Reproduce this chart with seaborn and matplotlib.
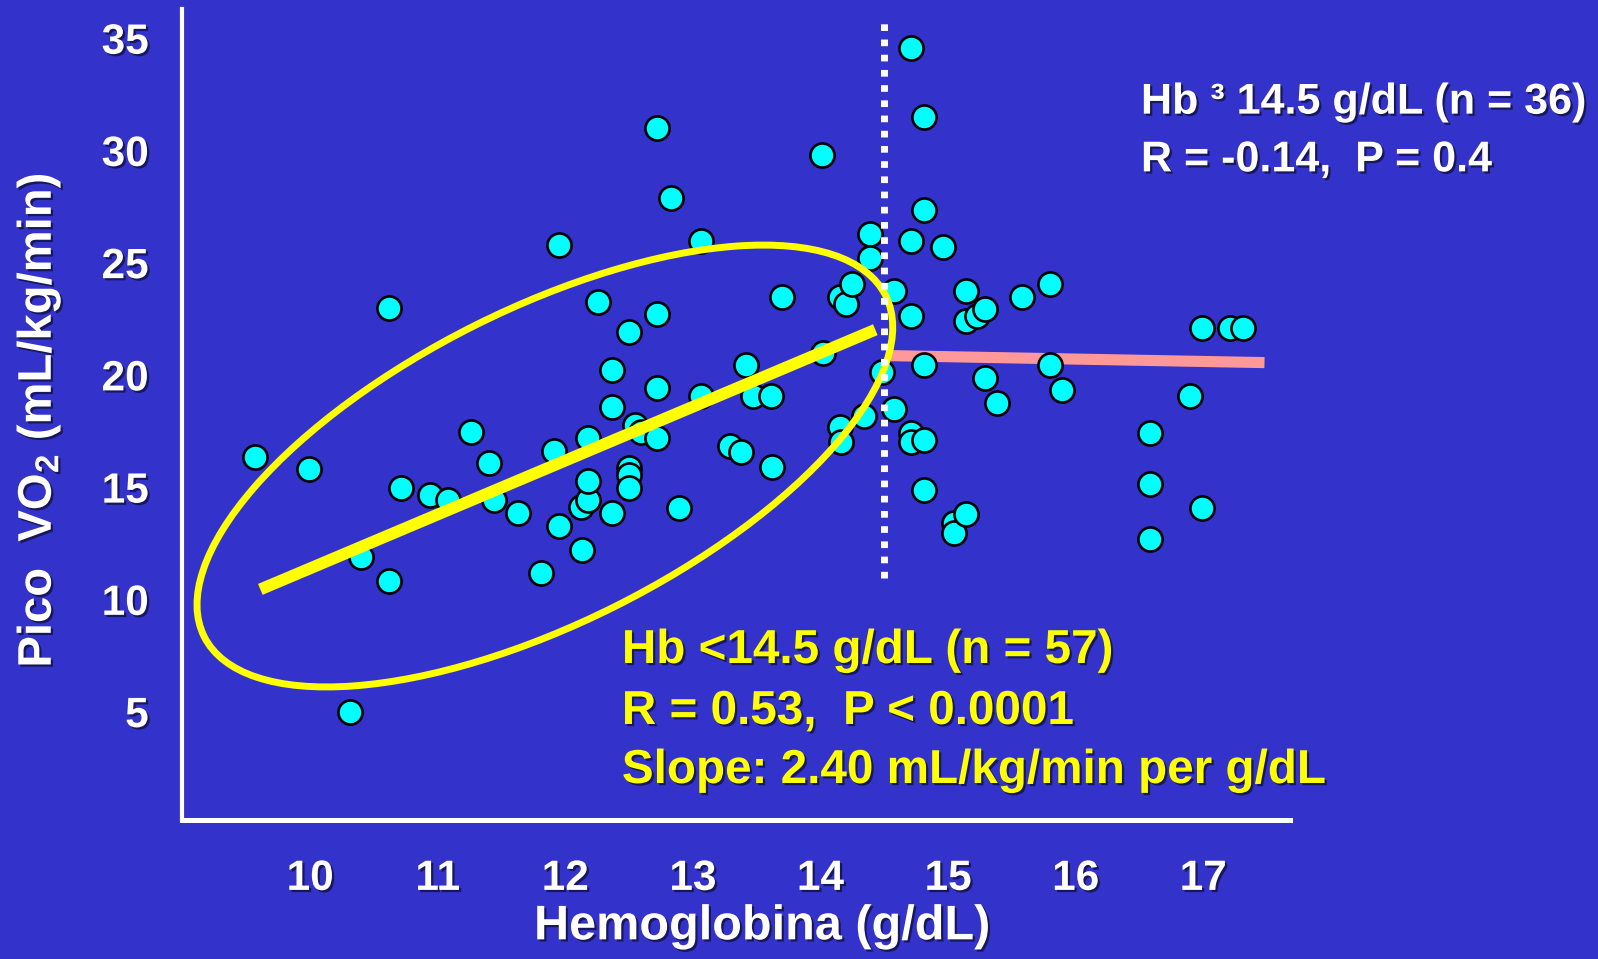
import matplotlib
matplotlib.use("Agg")
import matplotlib.pyplot as plt
import matplotlib.patheffects as pe
from matplotlib.patches import Ellipse
from matplotlib.transforms import ScaledTranslation
import pandas as pd
import seaborn as sns

# Patients with Hb < 14.5 g/dL
low_hb = [9.57, 9.99, 10.31, 10.40, 10.62, 10.62, 10.71, 10.94, 11.08, 11.26,
          11.40, 11.44, 11.63, 11.81, 11.91, 11.95, 11.95, 12.12, 12.13, 12.18,
          12.18, 12.18, 12.26, 12.37, 12.37, 12.37, 12.50, 12.50, 12.50, 12.50,
          12.55, 12.59, 12.72, 12.72, 12.72, 12.72, 12.83, 12.89, 13.06, 13.06,
          13.29, 13.38, 13.42, 13.47, 13.61, 13.62, 13.70, 14.01, 14.02, 14.15,
          14.15, 14.16, 14.20, 14.25, 14.34, 14.39, 14.39]
low_vo2 = [16.35, 15.79, 5.00, 11.90, 22.99, 10.80, 14.94, 14.67, 14.42, 17.44,
           16.08, 14.42, 13.86, 11.16, 16.62, 25.77, 13.28, 14.12, 12.19, 14.42,
           15.27, 17.20, 23.25, 20.21, 18.55, 13.86, 21.89, 15.83, 15.53, 14.94,
           17.76, 17.44, 31.02, 22.72, 19.40, 17.20, 27.89, 14.05, 25.97, 19.07,
           16.84, 16.57, 20.43, 19.07, 19.07, 15.91, 23.48, 29.79, 20.96, 23.48,
           17.69, 17.02, 23.18, 24.04, 18.16, 26.26, 25.19]

# Patients with Hb >= 14.5 g/dL
high_hb = [14.48, 14.58, 14.58, 14.71, 14.71, 14.71, 14.71, 14.71, 14.81, 14.81,
           14.81, 14.81, 14.81, 14.96, 15.05, 15.05, 15.14, 15.14, 15.14, 15.23,
           15.29, 15.29, 15.38, 15.58, 15.80, 15.80, 15.89, 16.58, 16.58, 16.58,
           16.90, 16.99, 16.99, 17.21, 17.31]
high_vo2 = [20.15, 23.73, 18.50, 34.55, 25.97, 22.64, 17.40, 17.01, 31.49, 27.33,
            20.42, 17.09, 14.89, 25.68, 13.41, 12.95, 23.73, 22.38, 13.79, 22.61,
            22.92, 19.85, 18.75, 23.48, 24.03, 20.42, 19.32, 17.39, 15.16, 12.68,
            19.05, 22.07, 14.05, 22.07, 22.07]

# Fitted lines: (slope, intercept, x start, x end)
low_fit = (2.40, -12.62, 9.61, 14.43)
high_fit = (-0.106, 22.40, 14.55, 17.48)
all_fit = (1.255, 1.914, 9.45, 17.47)
hb_cutoff = 14.5
cutoff_span = (10.95, 35.9)

x_ticks = [10, 11, 12, 13, 14, 15, 16, 17]
y_ticks = [5, 10, 15, 20, 25, 30, 35]

BG = "#3333CC"
CYAN = "#00FFFF"
YELLOW = "#FFFF00"
PINK = "#FF9999"

sns.set_style("white")
plt.rcParams["font.family"] = ["Liberation Sans", "DejaVu Sans"]
plt.rcParams["font.weight"] = "bold"
plt.rcParams["mathtext.fontset"] = "custom"
plt.rcParams["mathtext.rm"] = "Liberation Sans:bold"
plt.rcParams["mathtext.bf"] = "Liberation Sans:bold"
plt.rcParams["mathtext.default"] = "bf"

shadow = [pe.withSimplePatchShadow(offset=(1.6, -1.6), shadow_rgbFace="#141450", alpha=0.9)]

fig = plt.figure(figsize=(15.98, 9.59), dpi=100, facecolor=BG)
ax = fig.add_axes([182 / 1598, 139 / 959, 1108 / 1598, 811 / 959])
ax.set_facecolor(BG)

df = pd.DataFrame({
    "hb": low_hb + high_hb,
    "vo2": low_vo2 + high_vo2,
})


def fit_line(fit):
    slope, intercept, x0, x1 = fit
    return [x0, x1], [slope * x0 + intercept, slope * x1 + intercept]


# overall trend (dotted) and high-Hb trend behind the points
xs, ys = fit_line(all_fit)
ax.plot(xs, ys, color=CYAN, lw=7.3, linestyle=(0, (0, 2.4)),
        dash_capstyle="round", zorder=1)
xs, ys = fit_line(high_fit)
ax.plot(xs, ys, color=PINK, lw=8, solid_capstyle="butt", zorder=1.5)

sns.scatterplot(data=df, x="hb", y="vo2", ax=ax, color=CYAN, s=300,
                edgecolor="black", linewidth=1.9, zorder=3, legend=False)

# low-Hb regression line
xs, ys = fit_line(low_fit)
ax.plot(xs, ys, color=YELLOW, lw=8.5, solid_capstyle="butt", zorder=4)

# ellipse around the low-Hb cloud
ell = Ellipse((0, 0), width=7.62, height=3.14, angle=26.6, fill=False,
              edgecolor=YELLOW, lw=5,
              transform=fig.dpi_scale_trans + ScaledTranslation(11.84, 15.94, ax.transData),
              zorder=5)
ax.add_patch(ell)

# Hb cutoff
ax.plot([hb_cutoff, hb_cutoff], list(cutoff_span), color="white", lw=5,
        linestyle=(0, (0.96, 1.23)), dash_capstyle="butt", zorder=6)

ax.set_xlim(8.996, 17.68)
ax.set_ylim(0.17, 36.3)
ax.set_xticks(x_ticks)
ax.set_yticks(y_ticks)
ax.set_xticklabels([str(v) for v in x_ticks])
ax.set_yticklabels([str(v) for v in y_ticks])

for s in ["top", "right"]:
    ax.spines[s].set_visible(False)
ax.spines["left"].set_color("white")
ax.spines["left"].set_linewidth(3)
ax.spines["bottom"].set_color("white")
ax.spines["bottom"].set_linewidth(3.6)

ax.tick_params(axis="x", colors="white", direction="out", length=16, width=3,
               labelsize=30.5, pad=12)
ax.tick_params(axis="y", colors="white", direction="out", length=16, width=3,
               labelsize=30.5, pad=8)
for lab in ax.get_xticklabels() + ax.get_yticklabels():
    lab.set_fontweight("bold")
    lab.set_path_effects(shadow)

ax.set_ylabel(r"Pico  VO$_2$ (mL/kg/min)", fontsize=34, color="white",
              fontweight="bold", path_effects=shadow)
ax.yaxis.set_label_coords(-0.1074, 0.493)
ax.set_xlabel("Hemoglobina (g/dL)", fontsize=35, color="white",
              fontweight="bold", path_effects=shadow)
ax.xaxis.set_label_coords(0.5235, -0.104)

white_lines = ["Hb ³ 14.5 g/dL (n = 36)", "R = -0.14,  P = 0.4"]
for txt, yy in zip(white_lines, [0.871, 0.7998]):
    ax.text(0.8655, yy, txt, transform=ax.transAxes, color="white", fontsize=31,
            fontweight="bold", ha="left", va="baseline", path_effects=shadow,
            zorder=7)

yellow_lines = ["Hb <14.5 g/dL (n = 57)", "R = 0.53,  P < 0.0001",
                "Slope: 2.40 mL/kg/min per g/dL"]
for txt, yy in zip(yellow_lines, [0.1936, 0.1184, 0.0456]):
    ax.text(0.397, yy, txt, transform=ax.transAxes, color=YELLOW, fontsize=34.3,
            fontweight="bold", ha="left", va="baseline", path_effects=shadow,
            zorder=7)

fig.savefig("out.png", dpi=100, facecolor=BG)
